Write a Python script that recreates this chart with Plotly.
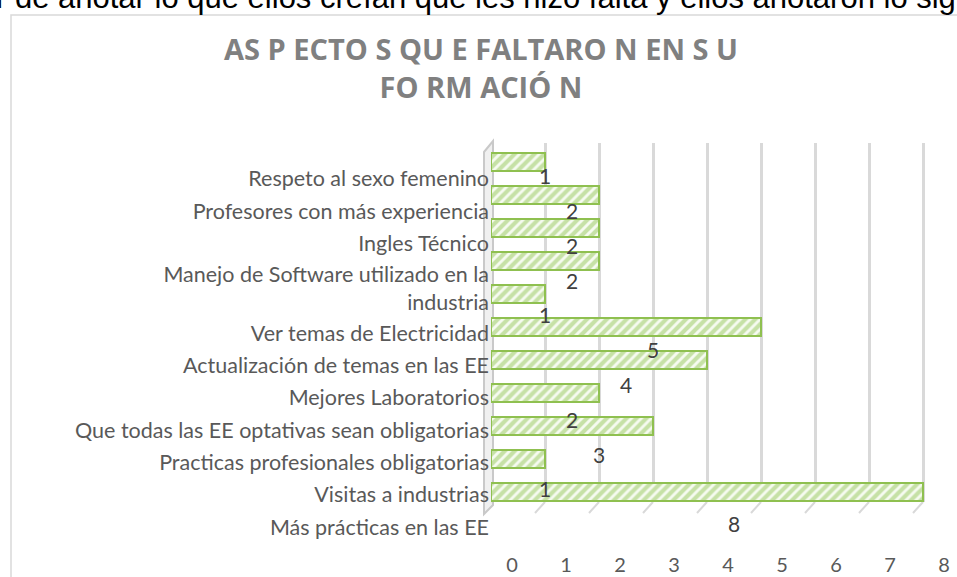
import plotly.graph_objects as go

# Survey answers: aspects missing from their training (bottom to top)
categories = [
    "Más prácticas en las EE",
    "Visitas a industrias",
    "Practicas profesionales obligatorias",
    "Que todas las EE optativas sean obligatorias",
    "Mejores Laboratorios",
    "Actualización de temas en las EE",
    "Ver temas de Electricidad",
    "Manejo de Software utilizado en la<br>industria",
    "Ingles Técnico",
    "Profesores con más experiencia",
    "Respeto al sexo femenino",
]
counts = [8, 1, 3, 2, 4, 5, 1, 2, 2, 2, 1]
x_ticks = [0, 1, 2, 3, 4, 5, 6, 7, 8]

title_lines = ["AS P ECTO S QU E FALTARO N EN S U", "FO RM ACIÓ N"]
intro_text = "r de anotar lo que ellos creían que les hizo falta y ellos anotaron lo siguiente:"

W, H = 957, 577
L, R, T, B = 491, 945, 143, 557      # plot area in pixels
FLOOR = 502                           # bottom of the back wall / gridlines
UNIT = 54.0                           # pixels per count on the value axis
BAR_SLOT_PX = 33.0                    # spacing of the bars
LABEL_SLOT_PX = 32.3                  # spacing of the category labels
FIRST_LABEL_PX = 527                  # centre of the lowest category label

LABEL_FONT = "Lato, Open Sans, sans-serif"


def px_x(p):
    return (p - L) / (R - L)


def px_y(p):
    return (B - p) / (B - T)


slots = list(range(len(categories)))

# Category label positions: wrapped labels take extra room above and below
n_lines = [c.count("<br>") + 1 for c in categories]
label_pos = [0.0]
for i in slots[1:]:
    label_pos.append(label_pos[-1] + 1 + 0.39 * ((n_lines[i] - 1) + (n_lines[i - 1] - 1)))
# Value labels spread evenly across the same span
value_pos = [i * label_pos[-1] / (len(slots) - 1) for i in slots]

fig = go.Figure()

# Bars (value axis x, bar slot axis y)
fig.add_trace(go.Bar(
    x=counts,
    y=slots,
    orientation="h",
    width=0.54,
    marker=dict(
        color="#c6e1a6",
        line=dict(color="#8fc050", width=2),
        pattern=dict(shape="/", fgcolor="#f6fbf0", bgcolor="#c6e1a6",
                     size=7, solidity=0.42, fillmode="replace"),
    ),
    xaxis="x", yaxis="y",
    hoverinfo="skip",
    showlegend=False,
))

# Value labels on the label overlay axes
fig.add_trace(go.Scatter(
    x=[(v + 1) / 2 for v in counts],
    y=value_pos,
    mode="text",
    text=[str(v) for v in counts],
    textposition="middle center",
    textfont=dict(family=LABEL_FONT, size=21, color="#404040"),
    xaxis="x2", yaxis="y2",
    cliponaxis=False,
    hoverinfo="skip",
    showlegend=False,
))

x_range = [0, (R - L) / UNIT]
bar_lo = (492 - FLOOR) / BAR_SLOT_PX
bar_hi = (492 - T) / BAR_SLOT_PX
lab_lo = (FIRST_LABEL_PX - B) / LABEL_SLOT_PX
lab_hi = (FIRST_LABEL_PX - T) / LABEL_SLOT_PX

shapes = []
# Side wall
wall = [(484, 152), (493, 141), (493, FLOOR + 3), (484, FLOOR + 12)]
path = "M " + " L ".join(f"{px_x(a):.5f},{px_y(b):.5f}" for a, b in wall) + " Z"
shapes.append(dict(type="path", path=path, xref="paper", yref="paper",
                   fillcolor="#f0f0f0", line=dict(color="#c9c9c9", width=2),
                   layer="below"))
# Floor edges under each gridline
for k in x_ticks:
    shapes.append(dict(type="line", xref="x", yref="paper",
                       x0=k, y0=px_y(FLOOR), x1=k - 10 / UNIT, y1=px_y(FLOOR + 11),
                       line=dict(color="#d9d9d9", width=2), layer="below"))
# Chart frame
shapes.append(dict(type="rect", xref="paper", yref="paper",
                   x0=px_x(11), y0=px_y(15), x1=px_x(W + 20), y1=px_y(H + 20),
                   line=dict(color="#d9d9d9", width=1.5), fillcolor="rgba(0,0,0,0)",
                   layer="below"))

fig.update_layout(
    width=W, height=H,
    margin=dict(l=L, r=W - R, t=T, b=H - B, pad=0, autoexpand=False),
    paper_bgcolor="white",
    plot_bgcolor="rgba(0,0,0,0)",
    title=dict(
        text="<b>" + "<br>".join(title_lines) + "</b>",
        x=481 / W, xref="container", xanchor="center",
        y=1 - 60 / H, yref="container", yanchor="middle",
        font=dict(family="Open Sans, Lato, sans-serif", size=29, color="#808080"),
        automargin=False,
    ),
    xaxis=dict(
        domain=[0, 1], anchor="y", range=x_range,
        tickvals=x_ticks, ticktext=[str(t) for t in x_ticks],
        showgrid=True, gridcolor="#d9d9d9", gridwidth=2.5,
        zeroline=False, showline=False, ticks="",
        ticklabelshift=21, ticklabelstandoff=49,
        tickfont=dict(family=LABEL_FONT, size=20, color="#595959"),
        automargin=False, fixedrange=True,
    ),
    yaxis=dict(
        domain=[px_y(FLOOR), 1], anchor="x", range=[bar_lo, bar_hi],
        showgrid=False, zeroline=False, showline=False,
        showticklabels=False, ticks="", automargin=False, fixedrange=True,
    ),
    xaxis2=dict(
        domain=[0, 1], anchor="y2", range=x_range,
        visible=False, automargin=False, fixedrange=True,
    ),
    yaxis2=dict(
        domain=[0, 1], anchor="x2", range=[lab_lo, lab_hi],
        tickvals=label_pos, ticktext=categories,
        showgrid=False, zeroline=False, showline=False, ticks="",
        ticklabelstandoff=1,
        tickfont=dict(family=LABEL_FONT, size=21.5, color="#595959"),
        automargin=False, fixedrange=True,
    ),
    shapes=shapes,
    annotations=[dict(
        text=intro_text, xref="paper", yref="paper",
        x=px_x(-6), y=px_y(-3), xanchor="left", yanchor="middle",
        showarrow=False,
        font=dict(family="Liberation Sans, Arial, sans-serif", size=31, color="black"),
    )],
)

fig.write_html("out.html")
